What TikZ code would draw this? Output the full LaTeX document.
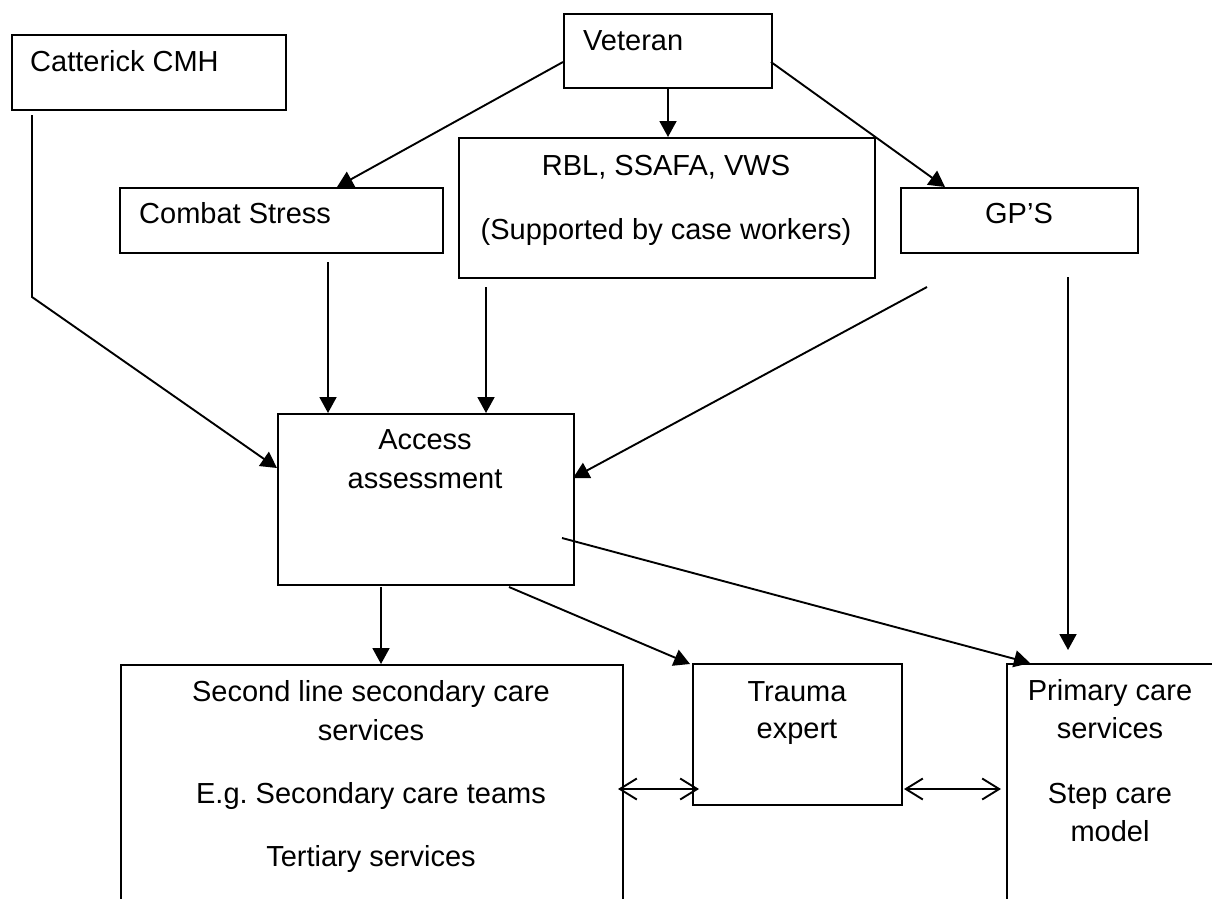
\documentclass[tikz,border=0pt]{standalone}
\usepackage{fontspec}
\setmainfont{Liberation Sans}
\usetikzlibrary{arrows.meta}
\begin{document}
\begin{tikzpicture}[x=1pt,y=-1pt,
  box/.style={draw, line width=2pt, rectangle, anchor=north west, inner sep=0pt},
  lbl/.style={inner sep=0pt, font=\fontsize{29}{35}\selectfont},
  arr/.style={line width=1.9pt, -{Triangle[length=16pt,width=17pt]}},
  dbl/.style={line width=1.9pt, {Straight Barb[length=17pt,width=21pt]}-{Straight Barb[length=17pt,width=21pt]}},
  plain/.style={line width=1.9pt}]
\useasboundingbox (0,0) rectangle (1212,898);
\clip (0,0) rectangle (1212,898);

% boxes
\node[box, minimum width=274pt, minimum height=75pt] (cat) at (11,34) {};
\node[box, minimum width=208pt, minimum height=74pt] (vet) at (563,13) {};
\node[box, minimum width=323pt, minimum height=65pt] (cs) at (119,187) {};
\node[box, minimum width=416pt, minimum height=140pt] (rbl) at (458,137) {};
\node[box, minimum width=237pt, minimum height=65pt] (gp) at (900,187) {};
\node[box, minimum width=296pt, minimum height=171pt] (acc) at (277,413) {};
\node[box, minimum width=502pt, minimum height=300pt] (sec) at (120,664) {};
\node[box, minimum width=209pt, minimum height=141pt] (tra) at (692,663) {};
\node[box, minimum width=260pt, minimum height=300pt] (pri) at (1006,663) {};

% texts
\node[lbl, anchor=base west] (catT) at (30,71) {Catterick CMH};
\node[lbl, anchor=base west] (vetT) at (583,50) {Veteran};
\node[lbl, anchor=base west] (csT) at (139,223) {Combat Stress};
\node[lbl, anchor=base] (rblA) at (666,175) {RBL, SSAFA, VWS};
\node[lbl, anchor=base] (rblB) at (666,239) {(Supported by case workers)};
\node[lbl, anchor=base] (gpT) at (1019,223) {GP’S};
\node[lbl, anchor=base] (accA) at (425,449) {Access};
\node[lbl, anchor=base] (accB) at (425,488) {assessment};
\node[lbl, anchor=base] (secA) at (371,701) {Second line secondary care};
\node[lbl, anchor=base] (secB) at (371,740) {services};
\node[lbl, anchor=base] (secC) at (371,803) {E.g.\ Secondary care teams};
\node[lbl, anchor=base] (secD) at (371,866) {Tertiary services};
\node[lbl, anchor=base] (traA) at (797,701) {Trauma};
\node[lbl, anchor=base] (traB) at (797,738) {expert};
\node[lbl, anchor=base] (priA) at (1110,700) {Primary care};
\node[lbl, anchor=base] (priB) at (1110,738) {services};
\node[lbl, anchor=base] (priC) at (1110,803) {Step care};
\node[lbl, anchor=base] (priD) at (1110,841) {model};

% connector end points
\coordinate (vL) at (563,62);
\coordinate (csIn) at (337,187);
\coordinate (vR) at (771,62);
\coordinate (gpIn) at (945,187);
\coordinate (catOut) at (32,115);
\coordinate (catBend) at (32,297);
\coordinate (accL) at (277,468);
\coordinate (csOut) at (328,262);
\coordinate (rblOut) at (486,287);
\coordinate (gpOutA) at (927,287);
\coordinate (accR) at (573,478);
\coordinate (gpOutB) at (1068,277);
\coordinate (priTop) at (1068,650);
\coordinate (accOutP) at (562,538);
\coordinate (priIn) at (1030,663);
\coordinate (accOutS) at (381,587);
\coordinate (accOutT) at (509,587);
\coordinate (traIn) at (690,664);
\coordinate (dA1) at (618,789);
\coordinate (dA2) at (699,789);
\coordinate (dB1) at (904,789);
\coordinate (dB2) at (1001,789);

% connectors
\draw[arr] (vL) -- (csIn);
\draw[arr] (vet.south) -- (vet.south |- rbl.north);
\draw[arr] (vR) -- (gpIn);
\draw[arr] (catOut) -- (catBend) -- (accL);
\draw[arr] (csOut) -- (csOut |- acc.north);
\draw[arr] (rblOut) -- (rblOut |- acc.north);
\draw[arr] (gpOutA) -- (accR);
\draw[arr] (gpOutB) -- (priTop);
\draw[arr] (accOutP) -- (priIn);
\draw[arr] (accOutS) -- (accOutS |- sec.north);
\draw[arr] (accOutT) -- (traIn);
\draw[dbl] (dA1) -- (dA2);
\draw[dbl] (dB1) -- (dB2);
\end{tikzpicture}
\end{document}
